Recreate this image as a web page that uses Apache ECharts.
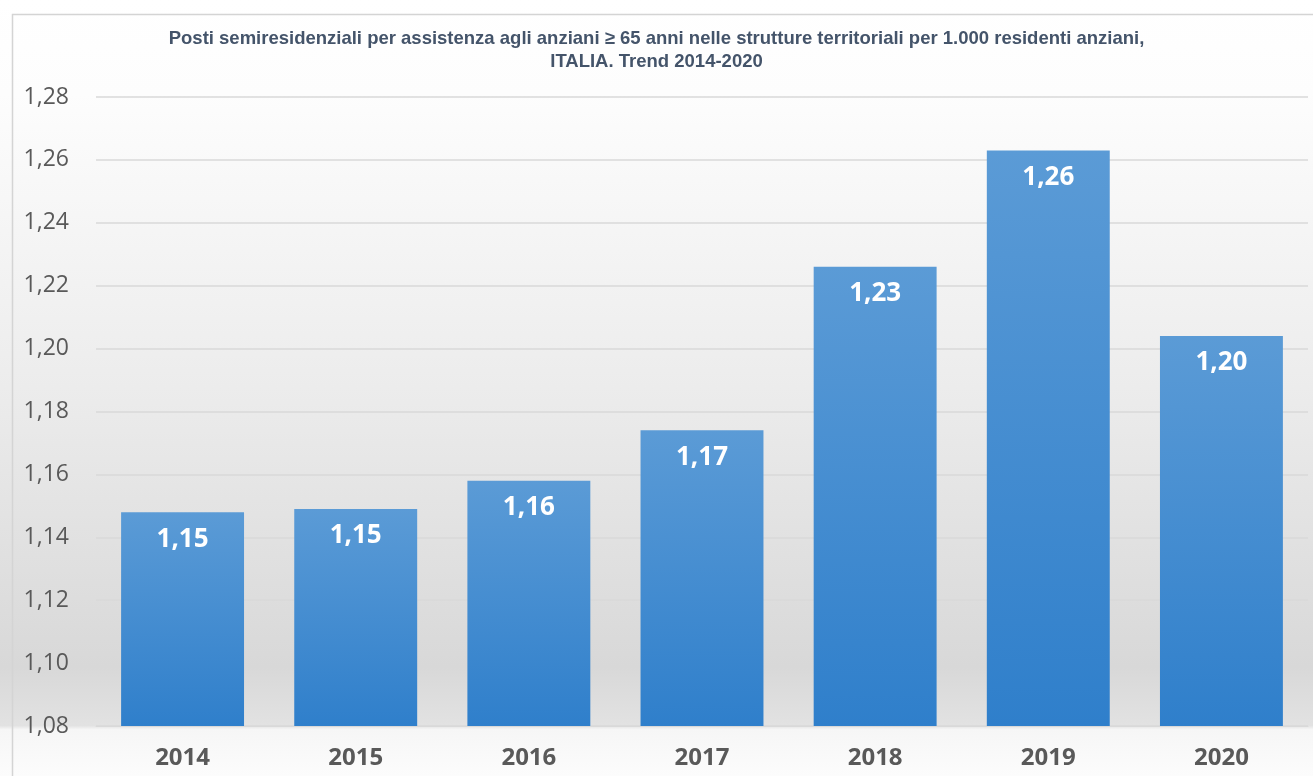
<!DOCTYPE html>
<html>
<head>
<meta charset="utf-8">
<script src="https://cdn.jsdelivr.net/npm/echarts@6/dist/echarts.min.js"></script>
<style>
    html, body { margin: 0; padding: 0; background: #fff; }
    #chart { width: 1313px; height: 776px; }
</style>
</head>
<body>
<div id="chart"></div>
<script>
    // dati
    var anni = ['2014', '2015', '2016', '2017', '2018', '2019', '2020'];
    var posti = [1.148, 1.149, 1.158, 1.174, 1.226, 1.263, 1.204];
    var yMin = 1.08;
    var yMax = 1.28;
    var yStep = 0.02;

    var titolo = 'Posti semiresidenziali per assistenza agli anziani \u2265 65 anni nelle strutture territoriali per 1.000 residenti anziani,\nITALIA. Trend 2014-2020';

    function virgola(v, d) {
        return v.toFixed(d).replace('.', ',');
    }

    var chart = echarts.init(document.getElementById('chart'));
    chart.setOption({
        backgroundColor: new echarts.graphic.LinearGradient(0, 0, 0, 1, [
            { offset: 0, color: '#ffffff' },
            { offset: 0.12, color: '#fdfdfd' },
            { offset: 0.5, color: '#ececec' },
            { offset: 0.86, color: '#d8d8d8' },
            { offset: 0.935, color: '#e2e2e2' },
            { offset: 0.94, color: '#f6f6f6' },
            { offset: 1, color: '#fcfcfc' }
        ]),
        textStyle: { fontFamily: 'Open Sans' },
        graphic: [{
            type: 'rect',
            left: 10,
            top: 12,
            shape: { width: 1320, height: 780 },
            style: { fill: 'none', stroke: '#d4d4d4', lineWidth: 1.5 },
            silent: true
        }],
        title: {
            text: titolo,
            left: 'center',
            top: 22,
            textStyle: {
                fontFamily: 'Liberation Sans',
                fontSize: 18.5,
                fontWeight: 'bold',
                color: '#44546a',
                lineHeight: 23
            }
        },
        grid: {
            left: 96,
            right: 5,
            top: 97,
            bottom: 50,
            containLabel: false
        },
        xAxis: {
            type: 'category',
            data: anni,
            axisTick: { show: false },
            axisLine: { lineStyle: { color: '#d9d9d9', width: 1 } },
            axisLabel: {
                margin: 20,
                fontSize: 24,
                fontWeight: 'bold',
                color: '#595959'
            }
        },
        yAxis: {
            type: 'value',
            min: yMin,
            max: yMax,
            interval: yStep,
            axisLine: { show: false },
            axisTick: { show: false },
            splitLine: { lineStyle: { color: '#d9d9d9', width: 1.5 } },
            axisLabel: {
                margin: 27,
                fontSize: 23,
                color: '#595959',
                formatter: function (v) { return virgola(v, 2); }
            }
        },
        series: [{
            type: 'bar',
            data: posti,
            barWidth: '71%',
            itemStyle: {
                color: new echarts.graphic.LinearGradient(0, 0, 0, 1, [
                    { offset: 0, color: '#5b9bd6' },
                    { offset: 1, color: '#2f7fcb' }
                ])
            },
            label: {
                show: true,
                position: 'insideTop',
                distance: 14,
                fontSize: 26,
                fontWeight: 'bold',
                color: '#ffffff',
                formatter: function (p) { return virgola(p.value, 2); }
            }
        }]
    });
</script>
</body>
</html>
